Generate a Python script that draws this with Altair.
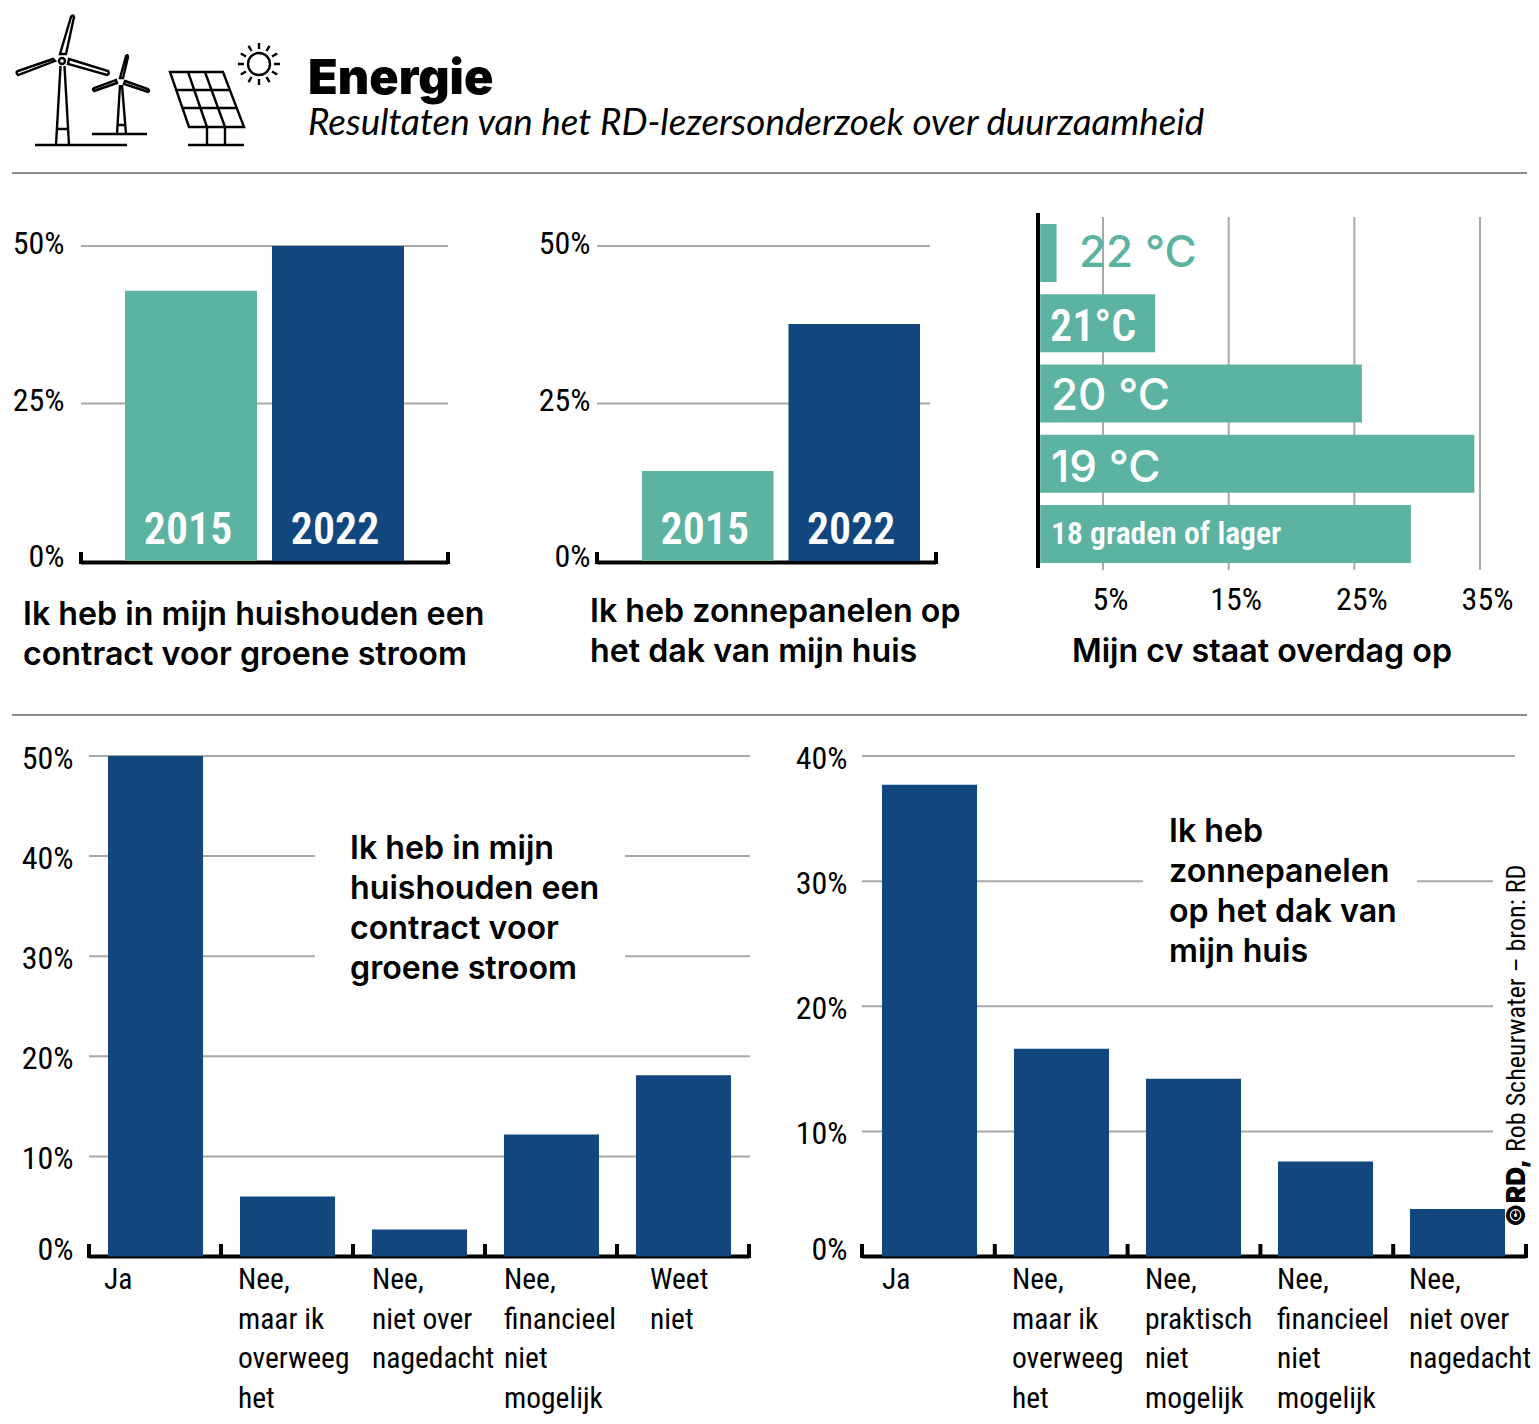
import math
import altair as alt

# ---------- data ----------
years = ["2015", "2022"]
green_contract = [42.9, 50.0]
solar_panels = [14.3, 37.6]

temps = ["22", "21", "20", "19", "18"]
temp_share = [1.3, 9.15, 25.6, 34.55, 29.5]

cat_left = ["Ja", "Nee maar", "Nee niet over", "Nee financieel", "Weet niet"]
val_left = [50.0, 6.0, 2.7, 12.2, 18.1]
cat_right = ["Ja", "Nee maar", "Nee praktisch", "Nee financieel", "Nee niet over"]
val_right = [37.7, 16.6, 14.2, 7.6, 3.8]

lines_left = [["Ja"], ["Nee,", "maar ik", "overweeg", "het"], ["Nee,", "niet over", "nagedacht"],
              ["Nee,", "financieel", "niet", "mogelijk"], ["Weet", "niet"]]
lines_right = [["Ja"], ["Nee,", "maar ik", "overweeg", "het"], ["Nee,", "praktisch", "niet", "mogelijk"],
               ["Nee,", "financieel", "niet", "mogelijk"], ["Nee,", "niet over", "nagedacht"]]
lines_x_left = [104, 238, 372, 504, 650]
lines_x_right = [882, 1012, 1145, 1277, 1409]

NAVY = "#11467f"
TEAL = "#5cb3a1"
GRID = "#a9a9a9"
SEP = "#8a8a8a"
NARROW = "Roboto Condensed"
HEAD = "Inter"
OX, OY = 8, 8
W, H = 1523, 1408
ONE = alt.Data(values=[{}])


def px(v):
    return alt.value(v - OX)


def py(v):
    return alt.value(v - OY)


def note(text, x, y, size=32.2, font=HEAD, weight=600, color="black", **kw):
    return alt.Chart(ONE).mark_text(text=text, font=font, fontSize=size, fontWeight=weight, color=color,
                                    align="left", baseline="alphabetic", **kw).encode(x=px(x), y=py(y))


def hline(x0, x1, y, color=GRID, width=2):
    return alt.Chart(ONE).mark_rule(color=color, strokeWidth=width).encode(x=px(x0), x2=px(x1), y=py(y))


def vscale(dom, y0, y1):
    return alt.Scale(domain=dom, range=[y0 - OY, y1 - OY], nice=False)


def yaxis(values, right, offset):
    return alt.Axis(orient="left", offset=-(right - OX), values=values, format="d", labelExpr="datum.value + '%'",
                    domain=False, ticks=False, grid=False, title=None, labelPadding=0, labelFont=NARROW,
                    labelFontSize=32, labelColor="black", labelOffset=offset, labelBaseline="middle",
                    labelFlush=False, labelOverlap=False)


def frame_ticks(positions_dom, x0, x1, ytop, ybot):
    rows = [{"t": t} for t in positions_dom]
    return alt.Chart(alt.Data(values=rows)).mark_rule(color="black", strokeWidth=4).encode(
        x=alt.X("t:Q", scale=alt.Scale(domain=[positions_dom[0], positions_dom[-1]], range=[x0 - OX, x1 - OX], nice=False), axis=None),
        y=py(ytop), y2=py(ybot))


def top_panel(values, bx0, bx1, ax0, ax1, gx1, label_dx, label_right):
    layers = []
    ys = vscale([0, 50], 561, 246)
    bs = alt.Scale(type="band", domain=years, range=[bx0 - OX, bx1 - OX], paddingInner=0.102, paddingOuter=0)
    rows = [{"year": y, "v": v} for y, v in zip(years, values)]
    layers.append(alt.Chart(alt.Data(values=[{"v": 25}, {"v": 50}])).mark_rule(color=GRID, strokeWidth=2).encode(
        x=px(ax0), x2=px(gx1), y=alt.Y("v:Q", scale=ys, axis=yaxis([25, 50], label_right, -3))))
    layers.append(alt.Chart(alt.Data(values=[{"v": 0}])).mark_rule(color="black", strokeWidth=4).encode(
        x=px(ax0), x2=px(ax1), y=alt.Y("v:Q", scale=vscale([0, 50], 562.5, 247.5), axis=yaxis([0], label_right, -6))))
    layers.append(frame_ticks([0, 1], ax0, ax1, 552, 564))
    layers.append(alt.Chart(alt.Data(values=rows)).mark_bar().encode(
        x=alt.X("year:N", scale=bs, axis=None, sort=None),
        y=alt.Y("v:Q", scale=ys, axis=None),
        color=alt.Color("year:N", scale=alt.Scale(domain=years, range=[TEAL, NAVY]), legend=None)))
    layers.append(alt.Chart(alt.Data(values=rows)).mark_text(
        font=NARROW, fontSize=44, fontWeight=600, color="white", dx=label_dx, baseline="alphabetic").encode(
        x=alt.X("year:N", scale=bs, axis=None, sort=None), y=py(544), text="year:N"))
    return layers


def bottom_panel(cats, vals, top, y0, ytop, bx0, bx1, ax0, ax1, axis_vals, label_right, gaps, grid_end):
    layers = []
    ys = vscale([0, top], y0, ytop)
    bs = alt.Scale(domain=cats, range=[bx0 - OX, bx1 - OX], paddingInner=0.28, paddingOuter=0)
    rows = [{"c": c, "v": v} for c, v in zip(cats, vals)]
    for v in axis_vals:
        gap = gaps.get(v)
        x_to = grid_end.get(v, grid_end["default"])
        segs = [(ax0, x_to)] if gap is None else [(ax0, gap[0]), (gap[1], x_to)]
        for a, b in segs:
            layers.append(alt.Chart(alt.Data(values=[{"v": v}])).mark_rule(color=GRID, strokeWidth=2).encode(
                x=px(a), x2=px(b), y=alt.Y("v:Q", scale=ys, axis=None)))
    layers.append(alt.Chart(alt.Data(values=[{"v": v} for v in axis_vals])).mark_rule(opacity=0).encode(
        y=alt.Y("v:Q", scale=ys, axis=yaxis(axis_vals, label_right, 2))))
    layers.append(alt.Chart(alt.Data(values=[{"v": 0}])).mark_rule(color="black", strokeWidth=4).encode(
        x=px(ax0), x2=px(ax1), y=alt.Y("v:Q", scale=ys, axis=yaxis([0], label_right, -7))))
    layers.append(frame_ticks([0, 1, 2, 3, 4, 5], ax0, ax1, 1244, 1258))
    layers.append(alt.Chart(alt.Data(values=rows)).mark_bar(color=NAVY).encode(
        x=alt.X("c:N", scale=bs, axis=None, sort=None),
        y=alt.Y("v:Q", scale=ys, axis=None)))
    return layers


layers = []

# header
layers.append(hline(12, 1527, 173, SEP, 2))
layers.append(hline(12, 1527, 715, SEP, 2))
layers.append(note("Energie", 308, 94, size=48.5, weight=900))
layers.append(note("Resultaten van het RD-lezersonderzoek over duurzaamheid", 308, 135, size=36.8, font="Lato", weight=400, fontStyle="italic"))

# icons
rays = ""
for i in range(12):
    a = math.radians(i * 30)
    rays += f"M{259 + 15 * math.cos(a):.1f} {64 + 15 * math.sin(a):.1f}L{259 + 21 * math.cos(a):.1f} {64 + 21 * math.sin(a):.1f}"
icon_paths = [
    "M35 145H127M56 145L60.5 66M69 145L64.5 66M57 129H68"
    "M60 54L71 17Q73 14 74 17L66 54ZM55 61L18 75Q15 72 18 71L53 59ZM69 59L108 71Q110 74 107 75L68 64Z"
    "M65 61A3 3 0 1 1 59 61A3 3 0 1 1 65 61Z",
    "M92 134H147M117 134L120 85M126 134L122 85M117 125H126"
    "M120 78L126 56Q128 54 128 57L123 78ZM117 83L94 91Q92 89 94 88L116 80ZM125 81L148 89Q150 91 148 92L124 84Z",
    "M170 72H223L244 127H189ZM188 72L207 127M205 72L225 127M177 90H230M183 108H237"
    "M207 127V145M225 127V145M188 145H244",
    "M270 64A11 11 0 1 1 248 64A11 11 0 1 1 270 64Z" + rays,
]
for p in icon_paths:
    layers.append(alt.Chart(ONE).mark_point(shape=p, size=4, filled=False, stroke="black", strokeWidth=2.4, opacity=1).encode(
        x=alt.value(-OX), y=alt.value(-OY)))

# top charts
layers += top_panel(green_contract, 125, 404, 81, 448, 448, -3, 64)
layers += top_panel(solar_panels, 642, 920, 597, 936, 930, -3, 590)
layers.append(note(["Ik heb in mijn huishouden een", "contract voor groene stroom"], 23, 625, lineHeight=40))
layers.append(note(["Ik heb zonnepanelen op", "het dak van mijn huis"], 590, 622, lineHeight=40))

# heating chart
xs = alt.Scale(domain=[0, 35], range=[1040.2 - OX, 1480 - OX], nice=False)
layers.append(alt.Chart(alt.Data(values=[{"v": v} for v in [5, 15, 25, 35]])).mark_rule(color=GRID, strokeWidth=2).encode(
    x=alt.X("v:Q", scale=xs, axis=alt.Axis(orient="bottom", offset=-(H - (599 - OY)), values=[5, 15, 25, 35],
                                            labelExpr="datum.value + '%'", domain=False, ticks=False, grid=False, title=None,
                                            labelPadding=0, labelFont=NARROW, labelFontSize=32, labelColor="black",
                                            labelOffset=7, labelBaseline="middle", labelFlush=False, labelOverlap=False)),
    y=py(217), y2=py(570)))
layers.append(alt.Chart(alt.Data(values=[{"t": t, "v": v} for t, v in zip(temps, temp_share)])).mark_bar(color=TEAL).encode(
    x=alt.X("v:Q", scale=xs, axis=None),
    y=alt.Y("t:N", scale=alt.Scale(domain=temps, range=[224 - OY, 563 - OY], paddingInner=0.174, paddingOuter=0), axis=None, sort=None)))
layers.append(alt.Chart(ONE).mark_rule(color="black", strokeWidth=4).encode(x=px(1038), y=py(213), y2=py(568)))
layers.append(note("22 °C", 1079, 267, size=44, weight=500, color=TEAL))
layers.append(note("21°C", 1050, 341, size=44, font=NARROW, weight=600, color="white"))
layers.append(note("20 °C", 1051, 410, size=44, weight=500, color="white"))
layers.append(note("19 °C", 1051, 482, size=44, weight=500, color="white"))
layers.append(note("18 graden of lager", 1051, 544, size=31.6, font=NARROW, weight=600, color="white"))
layers.append(note("Mijn cv staat overdag op", 1072, 662))

# bottom charts
layers += bottom_panel(cat_left, val_left, 50, 1256.5, 756, 108, 731, 89, 749, [10, 20, 30, 40, 50], 73,
                       {40: (315, 625), 30: (315, 625)}, {"default": 750})
layers += bottom_panel(cat_right, val_right, 40, 1256.5, 756, 882, 1505, 862, 1526, [10, 20, 30, 40], 847,
                       {30: (1143, 1417)}, {"default": 1493, 40: 1515})
layers.append(note(["Ik heb in mijn", "huishouden een", "contract voor", "groene stroom"], 350, 859, lineHeight=40))
layers.append(note(["Ik heb", "zonnepanelen", "op het dak van", "mijn huis"], 1169, 842, lineHeight=40))
for lines, x in list(zip(lines_left, lines_x_left)) + list(zip(lines_right, lines_x_right)):
    layers.append(note(lines, x, 1289, size=29.5, font=NARROW, weight=400, lineHeight=39.5))

# credit
layers.append(note("©RD,", 1525, 1227, size=26, font=HEAD, weight=900, angle=270))
layers.append(note("Rob Scheurwater – bron: RD", 1525, 1152, size=26, font=NARROW, weight=400, angle=270))

chart = alt.layer(*layers).resolve_scale(x="independent", y="independent", color="independent").properties(
    width=W, height=H, padding=0, autosize=alt.AutoSizeParams(type="none"), background="white"
).configure_view(stroke=None)
chart.save("out.html", embed_options={"renderer": "svg", "actions": False})
